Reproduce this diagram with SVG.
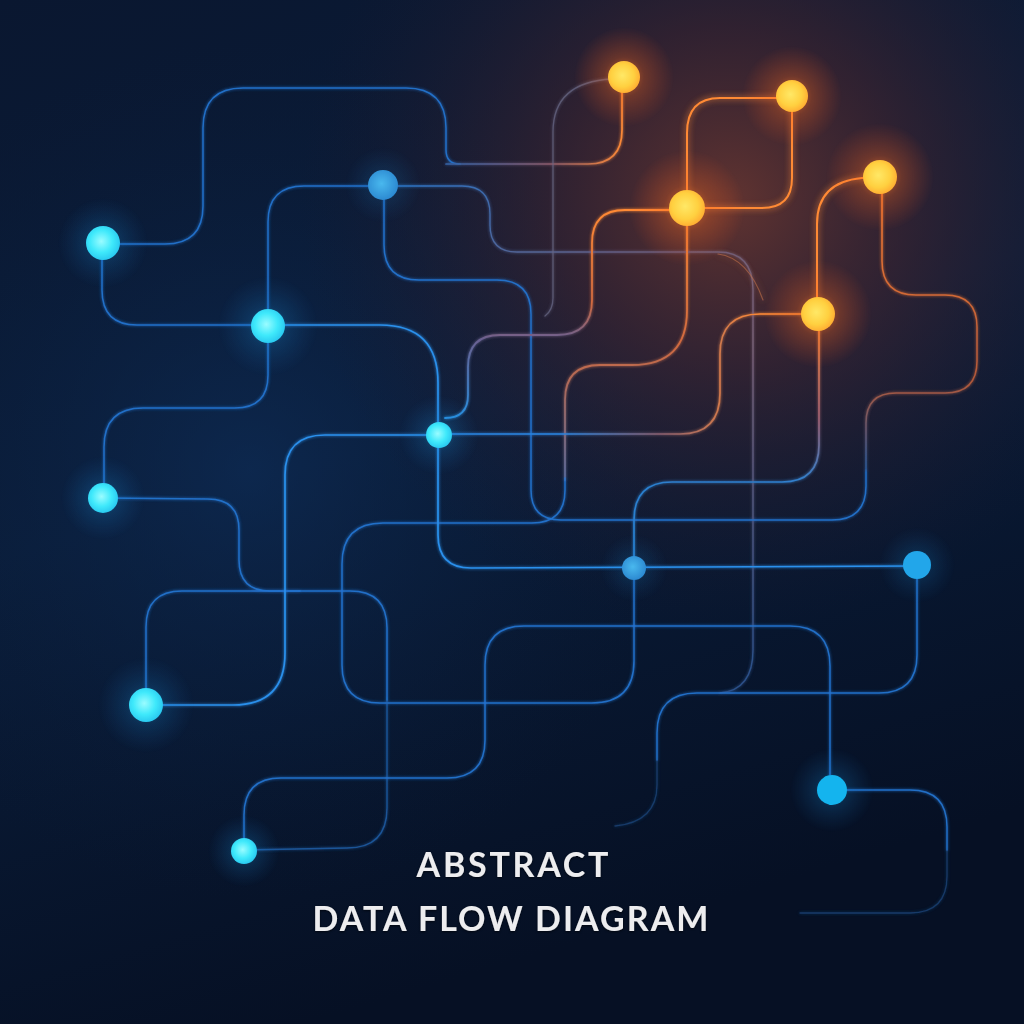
<svg xmlns="http://www.w3.org/2000/svg" width="1024" height="1024" viewBox="0 0 1024 1024">
<defs>
  <linearGradient id="bg" x1="0" y1="0" x2="0.3" y2="1">
    <stop offset="0" stop-color="#0a1730"/>
    <stop offset="0.5" stop-color="#0a1d3a"/>
    <stop offset="1" stop-color="#061024"/>
  </linearGradient>
  <radialGradient id="warm" cx="730" cy="200" r="430" gradientUnits="userSpaceOnUse">
    <stop offset="0" stop-color="#663530" stop-opacity="0.95"/>
    <stop offset="0.4" stop-color="#44252e" stop-opacity="0.65"/>
    <stop offset="1" stop-color="#1a1a30" stop-opacity="0"/>
  </radialGradient>
  <radialGradient id="cool" cx="250" cy="470" r="430" gradientUnits="userSpaceOnUse">
    <stop offset="0" stop-color="#0e2d58" stop-opacity="0.65"/>
    <stop offset="1" stop-color="#0a1c38" stop-opacity="0"/>
  </radialGradient>
  <radialGradient id="coreC" cx="0.45" cy="0.45" r="0.6">
    <stop offset="0" stop-color="#9afcff"/>
    <stop offset="0.55" stop-color="#3fe9fb"/>
    <stop offset="1" stop-color="#26c4ee"/>
  </radialGradient>
  <radialGradient id="coreB" cx="0.45" cy="0.45" r="0.6">
    <stop offset="0" stop-color="#49b8ee"/>
    <stop offset="1" stop-color="#2a86cf"/>
  </radialGradient>
  <radialGradient id="coreO" cx="0.45" cy="0.45" r="0.6">
    <stop offset="0" stop-color="#ffe866"/>
    <stop offset="0.6" stop-color="#ffd040"/>
    <stop offset="1" stop-color="#ffa830"/>
  </radialGradient>
  <radialGradient id="haloC">
    <stop offset="0" stop-color="#30d8ff" stop-opacity="0.5"/>
    <stop offset="0.4" stop-color="#1a90e0" stop-opacity="0.18"/>
    <stop offset="1" stop-color="#1a70c0" stop-opacity="0"/>
  </radialGradient>
  <radialGradient id="haloO">
    <stop offset="0" stop-color="#ff8a30" stop-opacity="0.75"/>
    <stop offset="0.4" stop-color="#ff6a20" stop-opacity="0.28"/>
    <stop offset="1" stop-color="#ff5a20" stop-opacity="0"/>
  </radialGradient>
  <linearGradient id="gP1" x1="440" y1="0" x2="625" y2="0" gradientUnits="userSpaceOnUse">
    <stop offset="0" stop-color="#2f62a8"/>
    <stop offset="0.6" stop-color="#8a5a6a"/>
    <stop offset="1" stop-color="#ff8a35"/>
  </linearGradient>
  <linearGradient id="gP5" x1="383" y1="186" x2="760" y2="690" gradientUnits="userSpaceOnUse">
    <stop offset="0" stop-color="#2a72c4"/>
    <stop offset="0.35" stop-color="#6a5a78"/>
    <stop offset="0.55" stop-color="#7a6278"/>
    <stop offset="1" stop-color="#264f8a"/>
  </linearGradient>
  <linearGradient id="gP6b" x1="0" y1="470" x2="0" y2="177" gradientUnits="userSpaceOnUse">
    <stop offset="0" stop-color="#2a5a9a"/>
    <stop offset="0.3" stop-color="#b0583a"/>
    <stop offset="1" stop-color="#ff8030"/>
  </linearGradient>
  <linearGradient id="gP10" x1="0" y1="210" x2="0" y2="418" gradientUnits="userSpaceOnUse">
    <stop offset="0" stop-color="#ff8a35"/>
    <stop offset="0.45" stop-color="#d06a40"/>
    <stop offset="0.62" stop-color="#6a6090"/>
    <stop offset="1" stop-color="#2a8fe0"/>
  </linearGradient>
  <linearGradient id="gP11" x1="0" y1="208" x2="0" y2="480" gradientUnits="userSpaceOnUse">
    <stop offset="0" stop-color="#ff8a35"/>
    <stop offset="0.5" stop-color="#d06a40"/>
    <stop offset="1" stop-color="#5a6a9a"/>
  </linearGradient>
  <linearGradient id="gP13" x1="560" y1="0" x2="760" y2="0" gradientUnits="userSpaceOnUse">
    <stop offset="0" stop-color="#2a85e0"/>
    <stop offset="0.5" stop-color="#8a6070"/>
    <stop offset="1" stop-color="#ff8a35"/>
  </linearGradient>
  <linearGradient id="gP14" x1="0" y1="314" x2="0" y2="485" gradientUnits="userSpaceOnUse">
    <stop offset="0" stop-color="#ff8a35"/>
    <stop offset="0.6" stop-color="#a06070"/>
    <stop offset="1" stop-color="#2a80d0"/>
  </linearGradient>
  <filter id="glowO" filterUnits="userSpaceOnUse" x="0" y="0" width="1024" height="1024">
    <feGaussianBlur stdDeviation="3" result="b"/>
    <feMerge><feMergeNode in="b"/><feMergeNode in="SourceGraphic"/></feMerge>
  </filter>
  <filter id="glowB" filterUnits="userSpaceOnUse" x="0" y="0" width="1024" height="1024">
    <feGaussianBlur stdDeviation="1.5" result="b"/>
    <feMerge><feMergeNode in="b"/><feMergeNode in="SourceGraphic"/></feMerge>
  </filter>
  <filter id="txt" filterUnits="userSpaceOnUse" x="0" y="800" width="1024" height="200">
    <feDropShadow dx="0" dy="1" stdDeviation="1.2" flood-color="#000000" flood-opacity="0.6"/>
  </filter>
</defs>
<style>
  .ln { fill: none; stroke-linecap: round; stroke-linejoin: round; }
  .blue { stroke: #2576d2; stroke-width: 1.5; opacity: 0.9; }
  .bright { stroke: #2b90ec; stroke-width: 1.7; }
  .dim { stroke: #2268b6; stroke-width: 1.4; opacity: 0.7; }
  .faint { stroke: #2460a4; stroke-width: 1.3; opacity: 0.45; }
  .org { stroke: #ff8a35; stroke-width: 2; }
  .title { font-family: "Lato", "Noto Sans", "Liberation Sans", sans-serif; font-size: 34px; font-weight: 700; fill: #ededef; text-anchor: middle; }
</style>

<rect width="1024" height="1024" fill="url(#bg)"/>
<rect width="1024" height="1024" fill="url(#cool)"/>
<rect width="1024" height="1024" fill="url(#warm)"/>

<g id="connectors">
  <g filter="url(#glowB)">
    <path class="ln blue" d="M120,244 L165,244 Q203,244 203,206 L203,128 Q203,88 243,88 L406,88 Q446,88 446,128 L446,150 Q446,164 460,164"/>
    <path class="ln" stroke="url(#gP1)" stroke-width="1.7" d="M446,164 L460,164 L588,164 Q622,164 622,130 L622,90"/>
    <path class="ln blue" d="M102,243 L102,290 Q102,325 137,325 L268,325"/>
    <path class="ln bright" d="M268,325 L380,325 Q438,325 438,383 L438,435"/>
    <path class="ln blue" d="M268,326 L268,222 Q268,186 304,186 L383,186"/>
    <path class="ln" stroke="url(#gP5)" stroke-width="1.4" d="M383,186 L462,186 Q490,186 490,214 L490,225 Q490,252 517,252 L718,252 Q753,252 753,290 L753,650 Q753,690 720,693"/>
    <path class="ln blue" d="M384,186 L384,245 Q384,280 419,280 L497,280 Q531,280 531,314 L531,490 Q531,520 561,520 L832,520 Q866,520 866,486 L866,470"/>
    <path class="ln" stroke="url(#gP6b)" stroke-width="1.5" d="M866,471 L866,423 Q866,393 896,393 L945,393 Q977,393 977,361 L977,327 Q977,295 945,295 L916,295 Q882,295 882,261 L882,177"/>
    <path class="ln" stroke="#6a6a88" stroke-width="1.3" opacity="0.7" d="M612,79 Q553,82 553,132 L553,298 Q553,310 545,316"/>
    <path class="ln" stroke="url(#gP10)" stroke-width="1.8" d="M687,210 L625,210 Q592,210 592,243 L592,300 Q592,335 557,335 L500,335 Q468,335 468,367 L468,395 Q468,418 445,418"/>
    <path class="ln" stroke="url(#gP11)" stroke-width="1.8" d="M687,208 L687,310 Q687,365 632,365 L600,365 Q565,365 565,400 L565,480"/>
    <path class="ln blue" d="M565,478 L565,490 Q565,523 532,523 L383,523 Q342,523 342,564 L342,665 Q342,703 380,703 L592,703 Q634,703 634,661 L634,568"/>
    <path class="ln" stroke="url(#gP13)" stroke-width="1.7" d="M818,314 L760,314 Q720,314 720,354 L720,393 Q720,434 680,434 L439,434"/>
    <path class="ln" stroke="url(#gP14)" stroke-width="1.7" d="M819,314 L819,445 Q819,482 782,482 L672,482 Q634,482 634,520 L634,568"/>
    <path class="ln bright" d="M438,435 L438,535 Q438,568 471,568 L917,566"/>
    <path class="ln blue" d="M917,566 L917,655 Q917,693 879,693 L697,693 Q657,693 657,733 L657,760"/>
    <path class="ln faint" d="M657,758 L657,785 Q657,822 615,826"/>
    <path class="ln blue" d="M268,326 L268,375 Q268,408 235,408 L143,408 Q104,408 104,447 L104,498"/>
    <path class="ln blue" d="M103,498 L208,499 Q239,499 239,530 L239,560 Q239,591 270,591 L300,591"/>
    <path class="ln blue" d="M146,705 L146,627 Q146,591 182,591 L350,591 Q387,591 387,628 L387,700"/>
    <path class="ln dim" d="M387,698 L387,808 Q387,848 347,848 L244,850"/>
    <path class="ln bright" d="M146,705 L233,705 Q285,705 285,653 L285,475 Q285,435 325,435 L439,435"/>
    <path class="ln blue" d="M244,851 L244,815 Q244,778 281,778 L447,778 Q485,778 485,740 L485,665 Q485,626 524,626 L790,626 Q830,626 830,666 L830,790"/>
    <path class="ln blue" d="M832,790 L910,790 Q947,790 947,827 L947,850"/>
    <path class="ln faint" d="M947,848 L947,876 Q947,913 910,913 L800,913"/>
  </g>
  <g filter="url(#glowO)">
    <path class="ln org" d="M792,98 L720,98 Q687,98 687,133 L687,207"/>
    <path class="ln org" d="M792,96 L792,178 Q792,208 762,208 L687,208"/>
    <path class="ln org" d="M880,177 L862,178 Q817,182 817,224 L817,314"/>
    <path class="ln" stroke="#c0704a" stroke-width="1.2" opacity="0.6" d="M718,254 Q748,258 763,300"/>
  </g>
</g>

<g id="node-b1"><circle cx="103" cy="243" r="45" fill="url(#haloC)"/><circle cx="103" cy="243" r="17" fill="url(#coreC)"/></g>
<g id="node-b2"><circle cx="383" cy="185" r="38" fill="url(#haloC)" opacity="0.7"/><circle cx="383" cy="185" r="15" fill="url(#coreB)"/></g>
<g id="node-b3"><circle cx="268" cy="326" r="50" fill="url(#haloC)"/><circle cx="268" cy="326" r="17" fill="url(#coreC)"/></g>
<g id="node-b4"><circle cx="439" cy="435" r="40" fill="url(#haloC)"/><circle cx="439" cy="435" r="13" fill="url(#coreC)"/></g>
<g id="node-b5"><circle cx="103" cy="498" r="42" fill="url(#haloC)"/><circle cx="103" cy="498" r="15" fill="url(#coreC)"/></g>
<g id="node-b6"><circle cx="146" cy="705" r="48" fill="url(#haloC)"/><circle cx="146" cy="705" r="17" fill="url(#coreC)"/></g>
<g id="node-b7"><circle cx="244" cy="851" r="36" fill="url(#haloC)"/><circle cx="244" cy="851" r="13" fill="url(#coreC)"/></g>
<g id="node-b8"><circle cx="634" cy="568" r="34" fill="url(#haloC)" opacity="0.7"/><circle cx="634" cy="568" r="12" fill="url(#coreB)"/></g>
<g id="node-b9"><circle cx="917" cy="565" r="38" fill="url(#haloC)" opacity="0.8"/><circle cx="917" cy="565" r="14" fill="#22a6ea"/></g>
<g id="node-b10"><circle cx="832" cy="790" r="42" fill="url(#haloC)"/><circle cx="832" cy="790" r="15" fill="#14b4ee"/></g>

<g id="node-o1"><circle cx="624" cy="77" r="50" fill="url(#haloO)"/><circle cx="624" cy="77" r="16" fill="url(#coreO)"/></g>
<g id="node-o2"><circle cx="792" cy="96" r="50" fill="url(#haloO)"/><circle cx="792" cy="96" r="16" fill="url(#coreO)"/></g>
<g id="node-o3"><circle cx="687" cy="208" r="58" fill="url(#haloO)"/><circle cx="687" cy="208" r="18" fill="url(#coreO)"/></g>
<g id="node-o4"><circle cx="880" cy="177" r="54" fill="url(#haloO)"/><circle cx="880" cy="177" r="17" fill="url(#coreO)"/></g>
<g id="node-o5"><circle cx="818" cy="314" r="54" fill="url(#haloO)"/><circle cx="818" cy="314" r="17" fill="url(#coreO)"/></g>

<g id="title" filter="url(#txt)">
  <text class="title" x="512.5" y="877" textLength="192" lengthAdjust="spacing">ABSTRACT</text>
  <text class="title" x="510.5" y="931" textLength="396" lengthAdjust="spacing">DATA FLOW DIAGRAM</text>
</g>
</svg>
